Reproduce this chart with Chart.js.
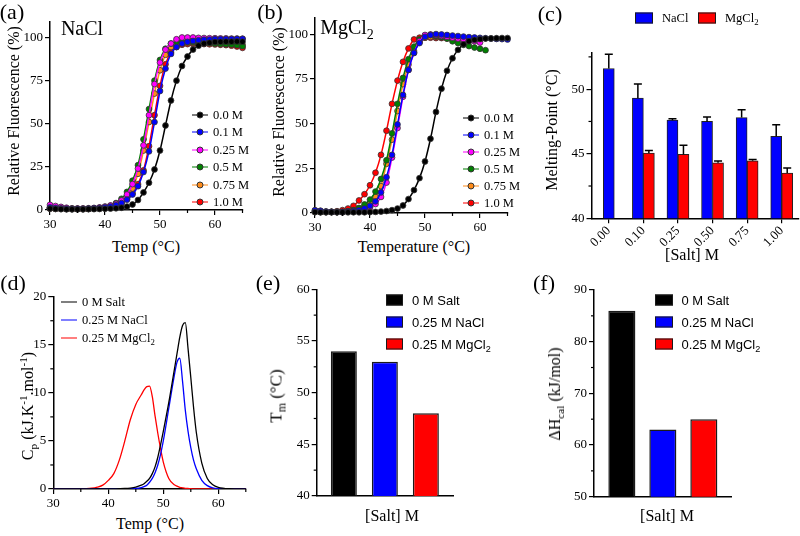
<!DOCTYPE html>
<html>
<head>
<meta charset="utf-8">
<script src="https://cdn.jsdelivr.net/npm/chart.js@4.4.1/dist/chart.umd.min.js"></script>
<style>
  html, body { margin: 0; padding: 0; background: #fff; }
  #fig { position: relative; width: 800px; height: 536px; overflow: hidden;
         font-family: 'Liberation Serif', 'Times New Roman', serif; color: #000; }
  #fig canvas { position: absolute; }
  .t { position: absolute; white-space: nowrap; line-height: 1; transform: translate(-50%, -50%); }
  .v { transform: translate(-50%, -50%) rotate(-90deg); }
  .l { position: absolute; white-space: nowrap; line-height: 1; transform: translateY(-50%); }
  .sans { font-family: 'Liberation Sans', Arial, sans-serif; }
  sub, sup { font-size: 70%; line-height: 0; }
  .mk { position: absolute; height: 0; border-top: 1.5px solid; transform: translateY(-50%); }
  .dot { position: absolute; width: 5px; height: 5px; border-radius: 50%; border: 1px solid #333;
         transform: translate(-50%, -50%); }
  .box { position: absolute; transform: translateY(-50%); box-sizing: border-box; border: 1.5px solid #1a1a1a; }
</style>
</head>
<body>
<div id="fig"></div>
<script>
// ---- thermal shift (panels a, b): relative fluorescence, one point per degree ----
const temps = [30,31,32,33,34,35,36,37,38,39,40,41,42,43,44,45,46,47,48,49,50,51,52,53,54,55,56,57,58,59,60,61,62,63,64,65];
const saltLabels = ["0.0 M", "0.1 M", "0.25 M", "0.5 M", "0.75 M", "1.0 M"];
const saltColors = ["#000000", "#0000ff", "#ff00ff", "#008000", "#ff8c1a", "#ff0000"];

const nacl00  = [0.8,0.6,0.5,0.4,0.4,0.4,0.4,0.5,0.5,0.6,0.7,0.8,1.0,1.3,2.0,3.2,5.8,10.2,15.8,23.5,34.5,49,63.5,75,83.5,89,93,95.3,96.5,97,97.4,97.5,97.6,97.6,97.7,97.6];
const nacl01  = [1.5,1.2,1.0,0.8,0.7,0.7,0.7,0.8,0.9,1.1,1.5,2.0,2.8,4.0,6.0,9.0,13.8,22,34,51,69,82,90.5,94.5,96.5,97.5,98,98.4,98.7,98.8,99,99,99.1,99.1,99.2,99.2];
const nacl025 = [3.0,2.3,1.8,1.3,1.0,0.9,0.9,1.0,1.2,1.5,2.0,2.6,3.6,5.5,9.0,15,24,37.5,55,73,85.5,93,96.5,99,100,100,100,99.8,99.7,99.6,99.6,99.5,99.5,99.4,99.4,99.3];
const nacl05  = [1.5,1.2,1.0,0.8,0.7,0.7,0.7,0.8,1.0,1.3,1.8,2.5,4.0,6.5,10.5,17,26,41,58.5,75,87,93.5,96.5,97.5,97.6,97.5,97.4,97.2,97,96.8,96.6,96.4,96.2,96,95.6,95];
const nacl075 = [1.0,0.9,0.8,0.7,0.6,0.6,0.6,0.7,0.8,1.0,1.4,2.0,3.0,4.8,7.5,12.5,21,34.5,51,67.5,81,90,94.5,96.3,97,97,96.9,96.8,96.7,96.6,96.5,96.4,96.3,96.2,96,95.8];
const nacl10  = [0.8,0.7,0.6,0.6,0.5,0.5,0.5,0.6,0.7,0.9,1.2,1.7,2.5,4.0,6.5,9.8,15,23,37,55,72,84.5,91.5,94.5,95.8,96.2,96.3,96.3,96.2,96.1,96,95.8,95.6,95.3,94.8,94];

const mg00  = [0.5,0.4,0.4,0.4,0.4,0.4,0.4,0.4,0.4,0.4,0.5,0.6,0.8,1.1,1.6,2.5,4.2,7.8,12.8,19.5,28.8,41.5,56.5,69.5,79.5,86.5,91.2,94.3,96,96.8,97.2,97.5,97.6,97.7,97.8,97.8];
const mg01  = [1.5,1.2,0.8,0.6,0.5,0.6,0.8,1.1,1.6,2.5,4,6.5,11.5,20,32.5,49.5,66,80,89.5,95,98.5,99.5,100,99.8,99.5,99.2,98.9,98.6,98.3,98.1,97.9,97.7,97.5,97.3,97.2,97];
const mg025 = [1.5,1.2,0.8,0.6,0.5,0.5,0.7,0.9,1.3,2.0,3.0,5.0,9.0,17,31,47.5,65,80,89.5,96,99.5,99.8,99.5,99,98.5,98,97.5,97,96.5,96,95.3,null,null,null,null,null];
const mg05  = [0.8,0.6,0.6,0.6,0.6,0.6,1.0,1.6,2.8,4.8,7.5,12,19,29.5,44.5,61,75.5,86,93,97,99,99.5,99,98.3,97.5,96,95,94,93.3,92.5,91.8,91,null,null,null,null];
const mg075 = [0.8,0.6,0.5,0.5,0.5,0.5,0.8,1.3,2.2,3.6,5.5,9,15,27.5,41,57,72,83,90.5,95.5,98,98.5,98.5,98.3,98,97.8,97.5,97.3,97,96.8,96.6,null,null,null,null,null];
const mg10  = [0.5,0.5,0.6,0.7,1.0,1.6,2.5,4,7,10.5,15.5,22.5,32.5,46,61,74,84.5,92,97,98,98,98,97.8,97.8,97.6,97.5,97.4,97.3,97.2,97.1,97,null,null,null,null,null];

// ---- melting points (panel c) ----
const saltConc  = ["0.00", "0.10", "0.25", "0.50", "0.75", "1.00"];
const tmNaCl    = [51.6, 49.3, 47.6, 47.5, 47.8, 46.35];
const tmNaClErr = [1.1, 1.1, 0.1, 0.35, 0.6, 0.9];
const tmMg      = [null, 45.05, 44.95, 44.3, 44.45, 43.5];
const tmMgErr   = [null, 0.2, 0.7, 0.13, 0.1, 0.4];

// ---- DSC (panels d, e, f) ----
const dscTemps  = [30,32,34,36,37,38,39,40,41,42,43,44,45,46,46.5,47,47.5,48,48.5,49,49.5,50,51,52,52.5,53,53.5,54,54.5,55,55.5,56,57,58,59,60,62,65];
const cpNoSalt  = [0,0,0,0,0,0,0,0.01,0.02,0.03,0.05,0.1,0.2,0.4,0.55,0.8,1.1,1.6,2.3,3.3,4.6,6.0,9.0,12.4,14.1,15.8,17.0,17.3,14.6,11.6,8.5,5.9,2.7,1.1,0.45,0.18,0.03,0];
const cpNaCl    = [0,0,0,0,0,0,0,0,0,0,0,0.02,0.05,0.15,0.25,0.4,0.7,1.1,1.7,2.5,3.6,5.0,8.4,11.8,13.2,13.6,11.2,8.2,6.0,4.3,3.0,2.1,0.9,0.35,0.12,0.04,0,0];
const cpMgCl2   = [0,0,0.01,0.03,0.08,0.2,0.4,0.9,1.6,3.0,5.0,7.2,8.8,9.8,10.3,10.65,10.7,9.6,7.6,5.8,4.2,2.8,1.1,0.45,0.3,0.18,0.12,0.07,0.05,0.03,0.02,0.01,0,0,0,0,0,0];
const dscGroups = ["0 M Salt", "0.25 M NaCl", "0.25 M MgCl2"];
const dscColors = ["#000000", "#0000ff", "#ff0000"];
const tmDsc     = [54, 53, 48];
const dhCal     = [86, 63, 65];

// ---- tick labels ----
const fluorTicks = [0, 25, 50, 75, 100];
const tempTicks  = [30, 40, 50, 60];
const tmTicks    = [40, 45, 50];
const cpTicks    = [0, 5, 10, 15, 20];
const tmDscTicks = [40, 45, 50, 55, 60];
const dhTicks    = [50, 60, 70, 80, 90];

const serif = "'Liberation Serif', 'Times New Roman', serif";
Chart.defaults.font.family = serif;
Chart.defaults.color = "#000";
const fig = document.getElementById("fig");

// small outward ticks between the labelled ones
const minorTicks = {
  id: "minorTicks",
  afterDraw(chart, args, opts) {
    const ctx = chart.ctx;
    ctx.save(); ctx.strokeStyle = "#000"; ctx.lineWidth = 1.2;
    for (const [id, step] of Object.entries(opts.steps || {})) {
      const s = chart.scales[id];
      const majors = s.ticks.map(t => t.value);
      for (let v = s.min; v <= s.max + 1e-9; v += step) {
        if (majors.some(m => Math.abs(m - v) < 1e-6)) continue;
        ctx.beginPath();
        if (s.isHorizontal()) { const x = s.getPixelForValue(v); ctx.moveTo(x, s.top); ctx.lineTo(x, s.top + 3); }
        else { const y = s.getPixelForValue(v); ctx.moveTo(s.right, y); ctx.lineTo(s.right - 3, y); }
        ctx.stroke();
      }
    }
    ctx.restore();
  }
};

// upper-only error bars, read from dataset.errPlus
const errorBars = {
  id: "errorBars",
  afterDatasetsDraw(chart) {
    const ctx = chart.ctx, ys = chart.scales.y;
    ctx.save(); ctx.strokeStyle = "#000"; ctx.lineWidth = 1.5;
    chart.data.datasets.forEach((ds, di) => {
      if (!ds.errPlus) return;
      chart.getDatasetMeta(di).data.forEach((bar, i) => {
        const v = ds.data[i], e = ds.errPlus[i];
        if (v == null || e == null) return;
        const yT = ys.getPixelForValue(v + e);
        ctx.beginPath();
        ctx.moveTo(bar.x, bar.y); ctx.lineTo(bar.x, yT);
        ctx.moveTo(bar.x - 4, yT); ctx.lineTo(bar.x + 4, yT);
        ctx.stroke();
      });
    });
    ctx.restore();
  }
};

function canvasAt(left, top, w, h) {
  const c = document.createElement("canvas");
  c.width = w; c.height = h;
  c.style.left = left + "px"; c.style.top = top + "px";
  c.style.width = w + "px"; c.style.height = h + "px";
  fig.appendChild(c);
  return c;
}

const gridOpts = { drawOnChartArea: false, drawTicks: true, tickLength: 5, color: "#000", lineWidth: 1.2 };
const borderOpts = { color: "#000", width: 1.5 };
const tickFont = { family: serif, size: 13 };

function yAxis(min, max, tickVals, width) {
  return {
    type: "linear", min, max,
    afterBuildTicks: s => { s.ticks = tickVals.map(v => ({ value: v })); },
    afterFit: s => { s.width = width; },
    grid: gridOpts, border: borderOpts,
    ticks: { color: "#000", font: tickFont, padding: 2 },
  };
}

function xLinear(min, max, tickVals, height) {
  return {
    type: "linear", min, max,
    afterBuildTicks: s => { s.ticks = tickVals.map(v => ({ value: v })); },
    afterFit: s => { s.height = height; },
    grid: gridOpts, border: borderOpts,
    ticks: { color: "#000", font: tickFont, padding: 2, maxRotation: 0 },
  };
}

function fluorSet(label, color, values) {
  return {
    label, data: temps.map((t, i) => ({ x: t, y: values[i] })),
    borderColor: color, backgroundColor: color, borderWidth: 1.5,
    pointRadius: 2.9, pointBackgroundColor: color, pointBorderColor: "#333", pointBorderWidth: 0.8,
    tension: 0.4, cubicInterpolationMode: "monotone", clip: false, spanGaps: false,
  };
}

function fluorChart(canvas, series, yWidth, pad, xHeight) {
  new Chart(canvas, {
    type: "line",
    data: { datasets: series.map((v, i) => fluorSet(saltLabels[i], saltColors[i], v)) },
    options: {
      responsive: false, animation: false,
      layout: { padding: pad },
      scales: { x: xLinear(30, 65, tempTicks, xHeight), y: yAxis(0, 109, fluorTicks, yWidth) },
      plugins: { legend: { display: false }, tooltip: { enabled: false }, minorTicks: { steps: { x: 5 } } },
    },
    plugins: [minorTicks],
  });
}

// (a) NaCl, (b) MgCl2
fluorChart(canvasAt(0, 0, 255, 235), [nacl00, nacl01, nacl025, nacl05, nacl075, nacl10], 50,
  { top: 22, right: 12.5, left: 0, bottom: 0 }, 25);
fluorChart(canvasAt(260, 0, 255, 235), [mg00, mg01, mg025, mg05, mg075, mg10], 55,
  { top: 18, right: 7.5, left: 0, bottom: 0 }, 22);

// (c) melting point bars
new Chart(canvasAt(525, 0, 275, 265), {
  type: "bar",
  data: {
    labels: saltConc,
    datasets: [
      { label: "NaCl", data: tmNaCl, errPlus: tmNaClErr, backgroundColor: "#0000ff", borderColor: "#222", borderWidth: 1 },
      { label: "MgCl2", data: tmMg, errPlus: tmMgErr, backgroundColor: "#ff0000", borderColor: "#222", borderWidth: 1 },
    ],
  },
  options: {
    responsive: false, animation: false,
    layout: { padding: { top: 53, right: 1, left: 0, bottom: 0 } },
    datasets: { bar: { barThickness: 11, skipNull: true } },
    scales: {
      x: {
        type: "category", offset: true,
        afterFit: s => { s.height = 46.7; },
        grid: Object.assign({}, gridOpts, { offset: false }), border: borderOpts,
        ticks: { color: "#000", font: tickFont, padding: 0, minRotation: 45, maxRotation: 45, autoSkip: false },
      },
      y: yAxis(40, 52.8, tmTicks, 66.5),
    },
    plugins: { legend: { display: false }, tooltip: { enabled: false }, minorTicks: { steps: { y: 2.5 } } },
  },
  plugins: [errorBars, minorTicks],
});

// (d) DSC heat capacity
const cpSeries = [cpNoSalt, cpNaCl, cpMgCl2];
new Chart(canvasAt(0, 280, 255, 230), {
  type: "line",
  data: {
    datasets: cpSeries.map((v, i) => ({
      label: dscGroups[i], data: dscTemps.map((t, j) => ({ x: t, y: v[j] })),
      borderColor: dscColors[i], borderWidth: 1.3, pointRadius: 0,
      tension: 0.4, cubicInterpolationMode: "monotone",
    })),
  },
  options: {
    responsive: false, animation: false,
    layout: { padding: { top: 16.7, right: 9.2, left: 0, bottom: 0 } },
    scales: { x: xLinear(30, 65, tempTicks, 21), y: yAxis(0, 20, cpTicks, 53.3) },
    plugins: { legend: { display: false }, tooltip: { enabled: false }, minorTicks: { steps: { x: 5, y: 2.5 } } },
  },
  plugins: [minorTicks],
});

// (e), (f) DSC summary bars: one group, three bars
function dscBars(canvas, values, min, max, tickVals, yWidth, pad, xHeight, catPct, barPct) {
  new Chart(canvas, {
    type: "bar",
    data: {
      labels: ["[Salt] M"],
      datasets: dscGroups.map((g, i) => ({
        label: g, data: [values[i]], backgroundColor: dscColors[i],
        borderColor: "#1a1a1a", borderWidth: 1.5,
        categoryPercentage: catPct, barPercentage: barPct,
      })),
    },
    options: {
      responsive: false, animation: false,
      layout: { padding: pad },
      scales: {
        x: { type: "category", afterFit: s => { s.height = xHeight; },
             grid: { display: false }, border: borderOpts, ticks: { display: false } },
        y: yAxis(min, max, tickVals, yWidth),
      },
      plugins: { legend: { display: false }, tooltip: { enabled: false },
                 minorTicks: { steps: { y: (tickVals[1] - tickVals[0]) / 2 } } },
    },
    plugins: [minorTicks],
  });
}
dscBars(canvasAt(262, 275, 200, 240), tmDsc, 40, 60, tmDscTicks, 54.7,
  { top: 14.3, right: 9, left: 0, bottom: 0 }, 19, 0.9025, 0.634);
dscBars(canvasAt(530, 275, 215, 240), dhCal, 50, 90, dhTicks, 64,
  { top: 15, right: 13.3, left: 0, bottom: 0 }, 18.3, 0.893, 0.66);

// ---- text, titles and legends ----
const sub2 = s => s.replace("Cl2", "Cl<sub>2</sub>");
function text(html, x, y, size, cls) {
  const d = document.createElement("div");
  d.className = "t " + (cls || "");
  d.style.left = x + "px"; d.style.top = y + "px"; d.style.fontSize = size + "px";
  d.innerHTML = html;
  fig.appendChild(d);
}
function leftText(html, x, y, size, cls) {
  const d = document.createElement("div");
  d.className = "l " + (cls || "");
  d.style.left = x + "px"; d.style.top = y + "px"; d.style.fontSize = size + "px";
  d.innerHTML = html;
  fig.appendChild(d);
}
function lineLegend(x, y0, dy, labels, colors, withDot) {
  labels.forEach((lab, i) => {
    const y = y0 + i * dy;
    const m = document.createElement("div");
    m.className = "mk";
    m.style.cssText += `left:${x}px;top:${y}px;width:16px;border-color:${colors[i]};`;
    fig.appendChild(m);
    if (withDot) {
      const d = document.createElement("div");
      d.className = "dot";
      d.style.cssText += `left:${x + 8}px;top:${y}px;background:${colors[i]};`;
      fig.appendChild(d);
    }
    leftText(sub2(lab), x + 21, y, 12.5);
  });
}
function boxLegend(x, y0, dy, labels, colors, size, cls, w, h) {
  labels.forEach((lab, i) => {
    const y = y0 + i * dy;
    const b = document.createElement("div");
    b.className = "box";
    b.style.cssText += `left:${x}px;top:${y}px;width:${w}px;height:${h}px;background:${colors[i]};`;
    fig.appendChild(b);
    leftText(sub2(lab), x + w + 9, y, size, cls);
  });
}

// panel (a)
text("(a)", 12, 12, 22);
text("NaCl", 82, 28, 20);
text("Relative Fluorescence (%)", 14, 111, 16, "v");
text("Temp (°C)", 146, 247, 16);
lineLegend(192, 115, 17.4, saltLabels, saltColors, true);
// panel (b)
text("(b)", 270, 12, 22);
text("MgCl<sub>2</sub>", 347, 27, 20);
text("Relative Fluorescence (%)", 279, 112, 16, "v");
text("Temperature (°C)", 414, 247, 16);
lineLegend(463, 118, 16.9, saltLabels, saltColors, true);
// panel (c)
text("(c)", 550, 14, 22);
text("Melting-Point (°C)", 552, 130, 16, "v");
text("[Salt] M", 692, 255, 16);
boxLegend(635, 17.5, 0, ["NaCl"], ["#0000ff"], 12.5, "", 18, 11);
boxLegend(698, 17.5, 0, ["MgCl2"], ["#ff0000"], 12.5, "", 18, 11);
// panel (d)
text("(d)", 13, 283, 22);
text("C<sub>p</sub> (kJ.K<sup>-1</sup>.mol<sup>-1</sup>)", 28, 406, 16, "v");
text("Temp (°C)", 150, 524, 16);
lineLegend(61, 302.3, 17.7, dscGroups, dscColors, false);
// panel (e)
text("(e)", 268, 283, 22);
text("T<sub>m</sub> (°C)", 276, 396, 17, "v");
text("[Salt] M", 392, 516, 16);
boxLegend(386, 299.5, 22.1, dscGroups, dscColors, 13, "sans", 17, 11);
// panel (f)
text("(f)", 544, 283, 22);
text("ΔH<sub>cal</sub> (kJ/mol)", 555, 394, 16, "v");
text("[Salt] M", 667, 516, 16);
boxLegend(655, 300, 22, dscGroups, dscColors, 13, "sans", 17.5, 11);
</script>
</body>
</html>
